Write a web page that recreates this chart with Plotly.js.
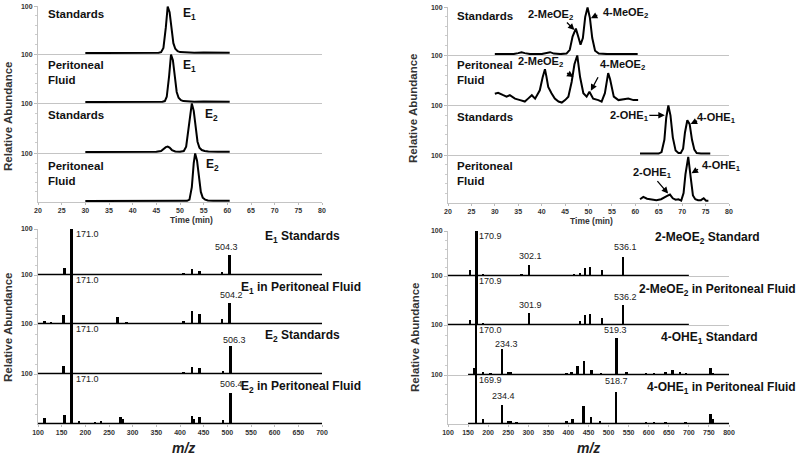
<!DOCTYPE html>
<html><head><meta charset="utf-8">
<script src="https://cdn.plot.ly/plotly-3.0.1.min.js"></script>
<style>html,body{margin:0;padding:0;background:#fff}#chart{width:800px;height:459px}</style>
</head><body><div id="chart"></div>
<script>
// ---------- Chromatograms (retention time, min ; relative abundance, %) ----------
const e1StdTime  = [30, 35, 40, 44, 45.5, 46, 46.5, 47, 47.4, 47.8, 48.2, 48.6, 49, 49.5, 50, 51, 53, 55, 57, 60.5];
const e1StdAbund = [1, 1, 1, 1, 1.5, 3, 12, 55, 100, 88, 50, 22, 10, 5, 3, 2, 1.5, 2, 1.5, 1.5];
const e1PfTime   = [30, 35, 40, 45, 46.3, 46.8, 47.2, 47.7, 48.1, 48.5, 48.9, 49.3, 49.7, 50.2, 50.7, 51.7, 53, 55, 57, 60.5];
const e1PfAbund  = [1, 1, 1, 1, 1.5, 3, 12, 55, 100, 88, 50, 22, 10, 5, 3, 2, 1.5, 2, 1.5, 1.5];
const e2StdTime  = [30, 35, 40, 45, 46, 46.5, 47, 47.4, 47.8, 48.3, 49, 50, 50.8, 51.3, 51.8, 52.2, 52.5, 52.9, 53.3, 53.7, 54.1, 54.6, 55.2, 56, 58, 60.5];
const e2StdAbund = [1, 1, 1.5, 1.5, 3, 7, 11, 12, 10, 5, 2, 1.5, 3, 12, 50, 88, 100, 85, 50, 22, 10, 5, 3, 2, 1.5, 1.5];
const e2PfTime   = [30, 35, 40, 45, 50, 51.5, 52, 52.5, 52.9, 53.2, 53.6, 54, 54.4, 54.8, 55.3, 55.9, 57, 60.5];
const e2PfAbund  = [1, 1, 1, 1, 1, 1.5, 4, 30, 80, 100, 85, 50, 20, 8, 4, 2, 1.5, 1.5];

const meoStdTime  = [30, 34, 35, 35.7, 36.4, 37.5, 40, 41, 41.8, 42.6, 44, 45.3, 46, 46.6, 47.3, 47.9, 48.3, 48.8, 49.3, 49.8, 50.3, 50.8, 51.4, 52.2, 54, 57, 60.5];
const meoStdAbund = [1, 1, 3, 5, 3, 1, 1, 3, 5, 2, 1, 2, 10, 38, 55, 35, 21, 35, 80, 100, 78, 35, 8, 2, 1, 1, 1];
const meoPfTime   = [30, 30.7, 31.8, 32.5, 33.2, 34.3, 35.4, 36.4, 37.1, 37.9, 38.6, 39.6, 40.2, 40.7, 41.0, 41.4, 42.1, 42.8, 43.6, 44.3, 45.0, 45.7, 46.4, 47.0, 47.6, 48.2, 48.9, 49.6, 50.2, 51.0, 52.1, 52.8, 53.5, 53.9, 54.2, 54.6, 55.0, 55.4, 56.4, 57.4, 58.5, 59.6, 60.6];
const meoPfAbund  = [22, 24, 19, 16, 19, 12, 9, 6, 12, 19, 12, 29, 55, 72, 58, 36, 23, 12, 6, 4, 9, 16, 46, 82, 100, 56, 23, 16, 26, 12, 9, 6, 23, 50, 64, 52, 36, 16, 9, 10, 12, 9, 9];
const ohStdTime   = [61, 63, 65, 65.6, 66.2, 66.6, 67.05, 67.5, 68, 68.6, 69.2, 69.7, 70.2, 70.6, 71.1, 71.6, 72.1, 72.6, 73.1, 74, 76];
const ohStdAbund  = [2, 2, 2, 5, 30, 75, 100, 80, 35, 8, 3, 3, 12, 45, 70, 62, 30, 10, 3, 2, 2];
const ohPfTime    = [61, 61.7, 62.5, 63.5, 64.5, 65.5, 66.2, 66.8, 67.4, 68, 68.6, 69.2, 69.8, 70.3, 70.7, 71.3, 71.8, 72.3, 72.8, 73.4, 74, 74.6, 75.1, 75.6];
const ohPfAbund   = [7, 12, 8, 6, 5, 7, 10, 14, 17, 9, 6, 7, 4, 20, 60, 97, 55, 15, 7, 5, 5, 9, 4, 4];

// ---------- Mass spectra (m/z ; relative abundance, %) ----------
const e1StdMz    = [112, 125, 140, 155.6, 171.0, 188, 245, 258, 272, 407.7, 425, 440.8, 488.7, 504.3];
const e1StdInt   = [1, 1, 1, 16, 100, 1, 1.5, 1.5, 1.5, 5, 13, 9, 7, 43];
const e1PfMz     = [114, 128, 154, 171.0, 189, 231.7, 245.8, 260, 268, 286.6, 326.8, 340.8, 407.7, 425, 440.8, 488.7, 504.2];
const e1PfInt    = [7, 4, 18, 100, 1.5, 2, 2, 2, 15, 5, 2, 2, 7, 26, 21, 11, 42];
const e2StdMz    = [112, 125, 140, 154, 171.0, 188, 215, 235, 255, 274, 300, 330, 360, 407.7, 425, 441.5, 491, 506.3];
const e2StdInt   = [1, 1, 1, 16, 100, 1.5, 1, 1, 1, 2, 1, 1, 1, 5, 14, 12, 7, 56];
const e2PfMz     = [114, 143.7, 155.6, 171.0, 186, 221, 233, 244, 274, 279.6, 411, 425, 429, 441.5, 491, 506.4];
const e2PfInt    = [12, 3, 18, 100, 7, 4, 7, 3, 15, 11, 3, 16, 10, 15, 9, 62];

const meo2StdMz  = [118, 136.8, 155, 170.9, 186.5, 215, 232, 248.6, 265, 283.4, 302.1, 356.4, 397.8, 414.3, 428.4, 440.9, 454.1, 483.1, 536.1];
const meo2StdInt = [1, 3, 13, 100, 4, 1, 1, 1, 1, 5, 24, 1, 2, 5, 7, 17, 19, 14, 42];
const meo2PfMz   = [116, 137, 142.6, 155, 170.9, 186.5, 232, 248.6, 265, 281.8, 288, 301.9, 356.4, 397.8, 414.3, 428.4, 440.9, 454.1, 483.1, 536.2];
const meo2PfInt  = [1, 3, 3, 11, 100, 5, 2, 1, 1, 3, 2, 25, 1, 3, 3, 8, 20, 23, 15, 40];
const ohe4StdMz  = [164.1, 170.0, 186.5, 205.6, 234.3, 250.3, 256.9, 269.4, 294.2, 315, 356.4, 395.3, 407.7, 422.6, 439.2, 457.4, 480.6, 497.2, 519.3, 544.4, 571.8, 592.5, 613.2, 642.2, 658.8, 677.8, 693.5, 725, 754, 760.6, 783];
const ohe4StdInt = [15, 100, 7, 5, 53, 6, 6, 2, 1, 1, 1, 5, 7, 19, 28, 11, 4, 3, 74, 6, 1, 4, 4, 6, 11, 6, 4, 2, 15, 5, 3];
const ohe4PfMz   = [169.9, 186.5, 234.4, 250.3, 255.3, 271, 296.7, 339.8, 395.3, 410.2, 437.5, 455.8, 479, 518.7, 561.5, 592.5, 613.2, 642.2, 691.9, 754, 759.8];
const ohe4PfInt  = [100, 10, 39, 7, 6, 4, 1, 1, 6, 10, 37, 15, 6, 65, 1, 4, 4, 4, 4, 21, 10];

// baseline spans of the recorded spectra
const spanE    = [100, 700];
const spanMeo  = [100, 700];
const spanOhe  = [150, 800];

// axis tick values
const timeTicks = [20, 25, 30, 35, 40, 45, 50, 55, 60, 65, 70, 75, 80];
const mzTicksL  = [100, 150, 200, 250, 300, 350, 400, 450, 500, 550, 600, 650, 700];
const mzTicksR  = [100, 150, 200, 250, 300, 350, 400, 450, 500, 550, 600, 650, 700, 750, 800];

// ---------- layout geometry ----------
const W = 800, H = 459;
const FONT = 'Liberation Sans, Arial, sans-serif';
const xDomL = [38 / W, 322 / W], xDomR = [448 / W, 729 / W];
const rowsTL = [[6, 54], [54, 103], [103, 153], [153, 202]];
const rowsTR = [[7, 55], [55, 105], [105, 155], [155, 203]];
const rowsBL = [[229, 275], [275, 324], [324, 374], [374, 424]];
const rowsBR = [[231, 276], [276, 325], [325, 375], [375, 424]];

const layout = {
  width: W, height: H, margin: {l: 0, r: 0, t: 0, b: 0},
  paper_bgcolor: '#fff', plot_bgcolor: 'rgba(0,0,0,0)',
  showlegend: false, font: {family: FONT, color: '#222'},
  annotations: [], bargap: 0
};
const traces = [];

function addPanel(idx, xDom, row, xRange, ticks, isBottom, yRange) {
  const xa = {
    domain: xDom, range: xRange, anchor: 'y' + idx,
    showgrid: false, zeroline: false, showline: true, linecolor: '#c4c4c4', linewidth: 1,
    tickvals: ticks, ticks: isBottom ? 'outside' : '', ticklen: 2, tickcolor: '#bbb',
    showticklabels: isBottom, tickfont: {family: FONT, size: 7, color: '#333', weight: 'bold'}
  };
  const ya = {
    domain: [1 - row[1] / H, 1 - row[0] / H], range: yRange, anchor: 'x' + idx,
    showgrid: false, zeroline: false, showline: true, linecolor: '#c4c4c4', linewidth: 1,
    tickvals: [100], ticktext: ['100'], ticks: 'outside', ticklen: 3, tickcolor: '#bbb',
    tickfont: {family: FONT, size: 7, color: '#333', weight: 'bold'},
    minor: {tickvals: [20, 40, 60, 80], ticks: 'outside', ticklen: 2, tickcolor: '#ccc'}
  };
  layout['xaxis' + idx] = xa;
  layout['yaxis' + idx] = ya;
}

const chromY = [-1, 101], specY = [0, 100];
rowsTL.forEach((r, i) => addPanel(1 + i, xDomL, r, [20, 80], timeTicks, i === 3, chromY));
rowsTR.forEach((r, i) => addPanel(5 + i, xDomR, r, [20, 80], timeTicks, i === 3, chromY));
rowsBL.forEach((r, i) => addPanel(9 + i, xDomL, r, [100, 700], mzTicksL, i === 3, specY));
rowsBR.forEach((r, i) => addPanel(13 + i, xDomR, r, [100, 800], mzTicksR, i === 3, specY));

function chrom(idx, t, a) {
  traces.push({type: 'scatter', mode: 'lines', x: t, y: a, xaxis: 'x' + idx, yaxis: 'y' + idx,
    line: {color: '#000', width: 2}, hoverinfo: 'skip'});
}
function spec(idx, mz, inten, span, w) {
  traces.push({type: 'scatter', mode: 'lines', x: span, y: [0, 0], xaxis: 'x' + idx, yaxis: 'y' + idx,
    line: {color: '#000', width: 2.5}, hoverinfo: 'skip'});
  traces.push({type: 'bar', x: mz, y: inten, width: w, xaxis: 'x' + idx, yaxis: 'y' + idx,
    marker: {color: '#000', line: {width: 0}}, hoverinfo: 'skip'});
}

chrom(1, e1StdTime, e1StdAbund);
chrom(2, e1PfTime, e1PfAbund);
chrom(3, e2StdTime, e2StdAbund);
chrom(4, e2PfTime, e2PfAbund);
chrom(5, meoStdTime, meoStdAbund);
chrom(6, meoPfTime, meoPfAbund);
chrom(7, ohStdTime, ohStdAbund);
chrom(8, ohPfTime, ohPfAbund);
spec(9, e1StdMz, e1StdInt, spanE, 5);
spec(10, e1PfMz, e1PfInt, spanE, 5);
spec(11, e2StdMz, e2StdInt, spanE, 5);
spec(12, e2PfMz, e2PfInt, spanE, 5);
spec(13, meo2StdMz, meo2StdInt, spanMeo, 6);
spec(14, meo2PfMz, meo2PfInt, spanMeo, 6);
spec(15, ohe4StdMz, ohe4StdInt, spanOhe, 6);
spec(16, ohe4PfMz, ohe4PfInt, spanOhe, 6);

// ---------- text ----------
const A = layout.annotations;
function txt(text, x, y, o) {
  o = o || {};
  A.push(Object.assign({text: text, xref: 'paper', yref: 'paper', x: x / W, y: 1 - y / H,
    xanchor: o.xa || 'left', yanchor: 'middle', showarrow: false,
    font: {family: FONT, size: o.size || 11.5, color: o.color || '#111', weight: o.weight || 'bold'}}, o.extra || {}));
}
// chromatogram panel labels
txt('Standards', 46, 14);
txt('Peritoneal<br>Fluid', 46, 72, {extra: {align: 'left'}});
txt('Standards', 46, 115);
txt('Peritoneal<br>Fluid', 46, 173, {extra: {align: 'left'}});
txt('E<sub>1</sub>', 181, 14, {size: 12});
txt('E<sub>1</sub>', 181, 66, {size: 12});
txt('E<sub>2</sub>', 203, 115, {size: 12});
txt('E<sub>2</sub>', 204, 165, {size: 12});

txt('Standards', 455, 16);
txt('Peritoneal<br>Fluid', 455, 72, {extra: {align: 'left'}});
txt('Standards', 455, 117);
txt('Peritoneal<br>Fluid', 455, 173, {extra: {align: 'left'}});
txt('2-MeOE<sub>2</sub>', 550, 15, {xa: 'center', size: 11});
txt('4-MeOE<sub>2</sub>', 625, 13, {xa: 'center', size: 11});
txt('2-MeOE<sub>2</sub>', 540, 62, {xa: 'center', size: 11});
txt('4-MeOE<sub>2</sub>', 622, 65, {xa: 'center', size: 11});
txt('2-OHE<sub>1</sub>', 629, 116, {xa: 'center', size: 11});
txt('4-OHE<sub>1</sub>', 716, 118, {xa: 'center', size: 11});
txt('2-OHE<sub>1</sub>', 652, 173, {xa: 'center', size: 11});
txt('4-OHE<sub>1</sub>', 721, 166, {xa: 'center', size: 11});

// arrows (head at peak, in data coordinates)
function arrow(idx, x, y, ax, ay) {
  A.push({text: '', xref: 'x' + idx, yref: 'y' + idx, x: x, y: y, ax: ax, ay: ay,
    showarrow: true, arrowhead: 2, arrowsize: 1, arrowwidth: 1.3, arrowcolor: '#000', standoff: 0, startstandoff: 0});
}
arrow(5, 47.0, 52, -9, -9);
arrow(5, 50.5, 77, 8, -4);
arrow(6, 46.8, 56, -8, -5);
arrow(6, 50.5, 28, 8, -15);
arrow(7, 66.3, 80, -17, 0);
arrow(7, 71.8, 62, 8, -4);
arrow(8, 67.0, 19, -12, -14);
arrow(8, 72.0, 62, 8, -5);

// spectrum panel labels (right aligned)
txt('E<sub>1</sub> Standards', 342, 237, {xa: 'right', size: 12});
txt('E<sub>1</sub> in Peritoneal Fluid', 363, 288, {xa: 'right', size: 12});
txt('E<sub>2</sub> Standards', 342, 336, {xa: 'right', size: 12});
txt('E<sub>2</sub> in Peritoneal Fluid', 363, 387, {xa: 'right', size: 12});
txt('2-MeOE<sub>2</sub> Standard', 762, 238, {xa: 'right', size: 12});
txt('2-MeOE<sub>2</sub> in Peritoneal Fluid', 798, 290, {xa: 'right', size: 12});
txt('4-OHE<sub>1</sub> Standard', 760, 338, {xa: 'right', size: 12});
txt('4-OHE<sub>1</sub> in Peritoneal Fluid', 798, 388, {xa: 'right', size: 12});

// peak m/z labels
function peak(idx, mz, y, text, mode, xs, ys) {
  const top = mode === 'top';
  A.push({text: text, xref: 'x' + idx, yref: 'y' + idx, x: mz, y: y, showarrow: false,
    xanchor: top ? 'left' : 'center', yanchor: top ? 'top' : 'bottom', xshift: xs || 0, yshift: ys || 0,
    font: {family: FONT, size: 9, color: '#222'}});
}
peak(9, 171.0, 100, '171.0', 'top', 2, 2);
peak(9, 504.3, 43, '504.3', 'above', -3, 1);
peak(10, 171.0, 100, '171.0', 'top', 2, 2);
peak(10, 504.2, 42, '504.2', 'above', 2, 1);
peak(11, 171.0, 100, '171.0', 'top', 2, 2);
peak(11, 506.3, 56, '506.3', 'above', 4, -1);
peak(12, 171.0, 100, '171.0', 'top', 2, 2);
peak(12, 506.4, 62, '506.4', 'above', 1, 2);
peak(13, 170.9, 100, '170.9', 'top', 1, 2);
peak(13, 302.1, 24, '302.1', 'above', 1, 2);
peak(13, 536.1, 42, '536.1', 'above', 2, 3);
peak(14, 170.9, 100, '170.9', 'top', 1, 2);
peak(14, 301.9, 25, '301.9', 'above', 1, 1);
peak(14, 536.2, 40, '536.2', 'above', 2, 1);
peak(15, 170.0, 100, '170.0', 'top', 1, 2);
peak(15, 234.3, 53, '234.3', 'above', 5, -2);
peak(15, 519.3, 74, '519.3', 'above', -1, 1);
peak(16, 169.9, 100, '169.9', 'top', 1, 2);
peak(16, 234.4, 39, '234.4', 'above', 2, 2);
peak(16, 518.7, 65, '518.7', 'above', 0, 4);

// axis titles
function vtitle(x, y) {
  A.push({text: 'Relative Abundance', xref: 'paper', yref: 'paper', x: x / W, y: 1 - y / H,
    textangle: -90, showarrow: false, xanchor: 'center', yanchor: 'middle',
    font: {family: FONT, size: 11.5, color: '#333', weight: 'bold'}});
}
vtitle(8, 116); vtitle(413, 108); vtitle(8, 327); vtitle(415, 337);
txt('Time (min)', 191, 220, {xa: 'center', size: 8.5, color: '#333'});
txt('Time (min)', 591, 221, {xa: 'center', size: 8.5, color: '#333'});
txt('<i>m/z</i>', 183, 448, {xa: 'center', size: 14, color: '#222'});
txt('<i>m/z</i>', 588, 448, {xa: 'center', size: 14, color: '#222'});

Plotly.newPlot('chart', traces, layout, {staticPlot: true, displayModeBar: false});
</script></body></html>
